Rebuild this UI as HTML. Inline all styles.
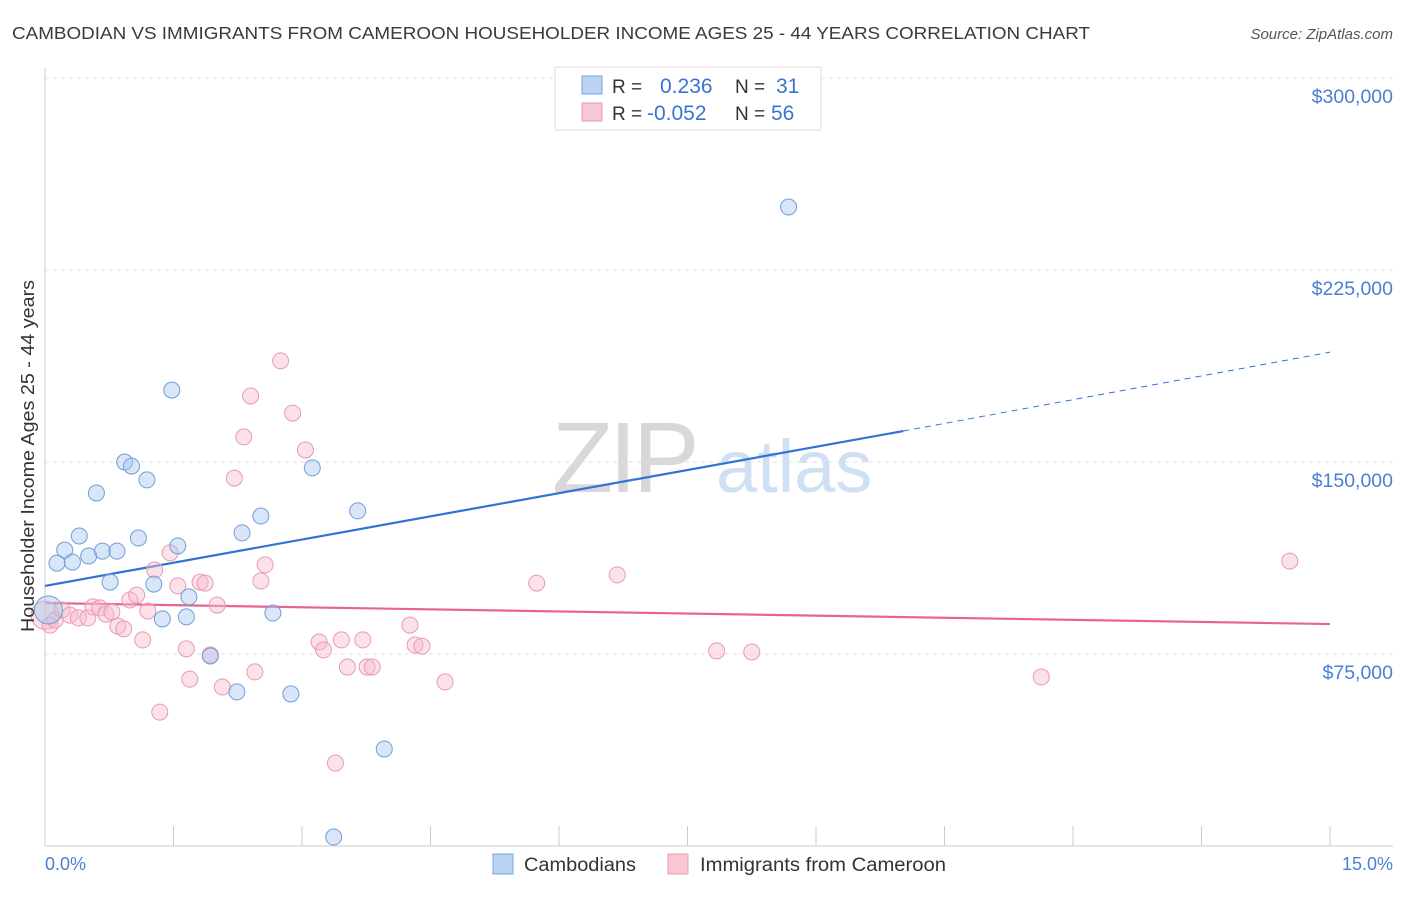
<!DOCTYPE html>
<html><head><meta charset="utf-8">
<style>
body{margin:0;background:#fff;font-family:"Liberation Sans",sans-serif;}
svg text{font-family:"Liberation Sans",sans-serif;}
</style></head>
<body>
<svg width="1406" height="892" viewBox="0 0 1406 892" xmlns="http://www.w3.org/2000/svg">
<text x="12" y="39" font-size="17.5" fill="#3a3a3a" textLength="1078" lengthAdjust="spacingAndGlyphs">CAMBODIAN VS IMMIGRANTS FROM CAMEROON HOUSEHOLDER INCOME AGES 25 - 44 YEARS CORRELATION CHART</text>
<text x="1393" y="39" font-size="15" fill="#555" text-anchor="end" font-style="italic">Source: ZipAtlas.com</text>
<g>
<text x="552" y="492" font-size="100" fill="#d8d8d8" font-family="Liberation Serif" letter-spacing="-4">ZIP</text>
<text x="716" y="492" font-size="74" fill="#cfe0f4">atlas</text>
</g>
<g id="grid"></g>
<g id="axes"></g>
<g id="trends"></g>
<g id="pts"></g>
<text transform="translate(34,456) rotate(-90)" font-size="18" fill="#333" text-anchor="middle" textLength="352" lengthAdjust="spacingAndGlyphs">Householder Income Ages 25 - 44 years</text>
<text x="45" y="870" font-size="18" fill="#4a7fd4">0.0%</text>
<text x="1393" y="870" font-size="18" fill="#4a7fd4" text-anchor="end">15.0%</text>
<g>
<rect x="555" y="67" width="266" height="63" fill="#fff" stroke="#ddd"/>
<rect x="582" y="76" width="20" height="18" fill="#b9d3f3" stroke="#7aa6de"/>
<rect x="582" y="103" width="20" height="18" fill="#f9c6d4" stroke="#eb9ab2"/>
<text x="612" y="93" font-size="19" fill="#333">R =</text>
<text x="660" y="93" font-size="21" fill="#3a74d0">0.236</text>
<text x="735" y="93" font-size="19" fill="#333">N =</text>
<text x="776" y="93" font-size="21" fill="#3a74d0">31</text>
<text x="612" y="120" font-size="19" fill="#333">R =</text>
<text x="647" y="120" font-size="21" fill="#3a74d0">-0.052</text>
<text x="735" y="120" font-size="19" fill="#333">N =</text>
<text x="771" y="120" font-size="21" fill="#3a74d0">56</text>
</g>
<g>
<rect x="493" y="854" width="20" height="20" fill="#b9d3f3" stroke="#7aa6de"/>
<text x="524" y="871" font-size="19" fill="#333" textLength="112" lengthAdjust="spacingAndGlyphs">Cambodians</text>
<rect x="668" y="854" width="20" height="20" fill="#f9c6d4" stroke="#eb9ab2"/>
<text x="700" y="871" font-size="19" fill="#333" textLength="246" lengthAdjust="spacingAndGlyphs">Immigrants from Cameroon</text>
</g>
</svg>
<script>
const yTicks=[75000,150000,225000,300000];
const yTickLabels=["$75,000","$150,000","$225,000","$300,000"];
const blueX=[0.04,0.14,0.23,0.32,0.40,0.51,0.60,0.67,0.76,0.84,0.93,1.01,1.09,1.19,1.27,1.37,1.48,1.55,1.68,1.65,1.93,2.24,2.30,2.52,2.66,2.87,3.12,3.37,3.65,3.96,8.68];
const blueY=[92200,110500,115600,110900,121100,113300,137900,115200,103100,115200,150000,148400,120300,143000,102300,88700,178100,117200,97300,89500,74200,60200,122300,128900,91000,59400,147700,3500,130900,37900,249600];
const pinkX=[0.00,0.06,0.12,0.20,0.29,0.39,0.50,0.56,0.64,0.71,0.78,0.85,0.92,0.99,1.07,1.14,1.20,1.28,1.34,1.46,1.55,1.65,1.69,1.81,1.87,2.01,2.07,1.93,2.21,2.32,2.40,2.45,2.52,2.57,2.75,2.89,3.04,3.20,3.25,3.46,3.53,3.39,3.71,3.76,3.82,4.26,4.32,4.40,4.67,5.74,6.68,7.84,8.25,11.63,14.53];
const pinkY=[90200,86300,88300,92200,90200,89100,89100,93400,93000,90600,91400,85900,84800,96100,98000,80500,91800,107800,52300,114500,101600,77000,65200,103100,102700,94100,62100,74600,143700,159800,175800,68000,103500,109800,189500,169100,154700,79700,76600,80500,69900,32400,80500,69900,69900,86300,78500,78100,64100,102700,105900,76200,75800,66000,111300];
const blueTrendX=[0,10.02,15];
const blueTrendY=[101600,162100,192900];
const pinkTrendX=[0,15];
const pinkTrendY=[94900,86700];
const NS="http://www.w3.org/2000/svg";
const xs=v=>45+v/15*1285;
const ys=v=>846-v*192/75000;
function mk(tag,attrs,parent){const e=document.createElementNS(NS,tag);for(const k in attrs)e.setAttribute(k,attrs[k]);document.getElementById(parent).appendChild(e);return e;}
yTicks.forEach((t,i)=>{
 const l=mk('line',{x1:45,x2:1393,y1:ys(t),y2:ys(t),stroke:'#e2e2e2','stroke-dasharray':'4,4'},'grid');
 
 
 const tx=mk('text',{x:1393,y:ys(t)+25,'font-size':19.5,fill:'#4a7fd4','text-anchor':'end'},'grid');
 tx.textContent=yTickLabels[i];
 
 
});
mk('line',{x1:45,x2:45,y1:68,y2:846,stroke:'#ccc'},'axes');
mk('line',{x1:45,x2:1393,y1:846,y2:846,stroke:'#ccc'},'axes');
for(let i=0;i<=10;i++){const t=mk('line',{x1:xs(i*1.5),x2:xs(i*1.5),y1:826,y2:846,stroke:'#ccc'},'axes');
 
 }
function dot(x,y,r,fill,stroke){const c=mk('circle',{cx:xs(x),cy:ys(y),r:r,fill:fill,'fill-opacity':0.45,stroke:stroke,'stroke-width':1},'pts');return c;}
pinkX.forEach((x,i)=>{const c=dot(x,pinkY[i],i==0?14:8,'#f7bccc','#e99ab2');
 
 });
blueX.forEach((x,i)=>{const c=dot(x,blueY[i],i==0?14:8,'#a9c7ef','#6f9edb');
 
 });
const b1=mk('line',{x1:xs(blueTrendX[0]),y1:ys(blueTrendY[0]),x2:xs(blueTrendX[1]),y2:ys(blueTrendY[1]),stroke:'#2f73d6','stroke-width':2.2},'trends');


const b2=mk('line',{x1:xs(blueTrendX[1]),y1:ys(blueTrendY[1]),x2:xs(blueTrendX[2]),y2:ys(blueTrendY[2]),stroke:'#2f73d6','stroke-width':1,'stroke-dasharray':'6,5'},'trends');


const p1=mk('line',{x1:xs(pinkTrendX[0]),y1:ys(pinkTrendY[0]),x2:xs(pinkTrendX[1]),y2:ys(pinkTrendY[1]),stroke:'#e7648f','stroke-width':2.2},'trends');


</script>
</body></html>
